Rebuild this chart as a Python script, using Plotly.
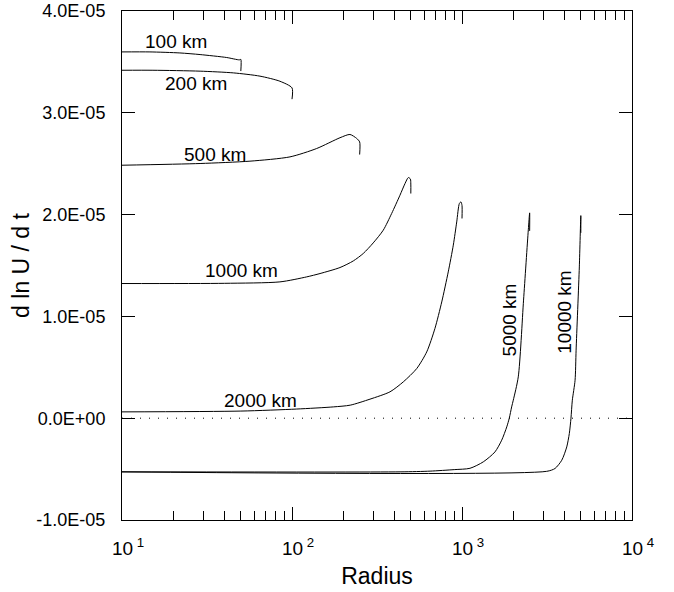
import math
import plotly.graph_objects as go

# ---- data (Radius, d ln U / d t in units of 1e-5) ----
r_100 = [10, 14.6, 21.9, 28.8, 41.3, 49, 50, 50]
v_100 = [3.598, 3.598, 3.588, 3.572, 3.543, 3.52, 3.525, 3.41]

r_200 = [10, 15.2, 28.8, 45.2, 64.8, 84.9, 100, 100]
v_200 = [3.418, 3.418, 3.409, 3.392, 3.36, 3.31, 3.245, 3.134]

r_500 = [10, 28.8, 56.6, 97.3, 139.6, 191.5, 219.2, 240.2, 250, 250]
v_500 = [2.485, 2.502, 2.525, 2.567, 2.649, 2.755, 2.787, 2.748, 2.714, 2.59]

r_1000 = [10, 40, 84.9, 121.9, 146.2, 191.5, 229.4, 262.5, 300.5, 344.2, 385.7, 431.5, 462.1, 483.4, 497, 500, 500]
v_1000 = [1.323, 1.325, 1.339, 1.388, 1.421, 1.480, 1.545, 1.618, 1.722, 1.847, 2.011, 2.19, 2.305, 2.364, 2.35, 2.30, 2.207]

r_2000 = [10, 50, 106.6, 175, 220, 287.5, 377, 451.6, 541.8, 620, 693, 760, 830, 889, 931, 965, 986, 1000, 1000]
v_2000 = [0.062, 0.07, 0.09, 0.111, 0.128, 0.187, 0.259, 0.357, 0.488, 0.651, 0.881, 1.142, 1.437, 1.70, 1.928, 2.109, 2.125, 2.09, 1.962]

r_5000 = [10, 432, 649, 900, 1114, 1334, 1563, 1712, 1834, 1897, 1959, 2003, 2143, 2302, 2455, 2500, 2500]
v_5000 = [-0.527, -0.527, -0.52, -0.505, -0.492, -0.429, -0.331, -0.216, -0.085, 0.0, 0.111, 0.177, 0.406, 1.16, 1.85, 2.017, 1.84]

r_10000 = [10, 3148, 3524, 3862, 4132, 4279, 4375, 4457, 4625, 4690, 4900, 5000, 5000]
v_10000 = [-0.527, -0.522, -0.494, -0.413, -0.282, -0.15, 0.0, 0.177, 0.373, 0.668, 1.486, 1.99, 1.82]

zero_x = [10, 10000]
zero_y = [0, 0]

curve_labels = ["100 km", "200 km", "500 km", "1000 km", "2000 km", "5000 km", "10000 km"]
label_r = [20.8, 27.2, 35.2, 50.6, 64.9, 1897, 4036]
label_v = [3.703, 3.291, 2.593, 1.454, 0.17, 0.963, 1.036]
label_angle = [0, 0, 0, 0, 0, -90, -90]

ytick_vals = [-1, 0, 1, 2, 3, 4]
ytick_text = ["-1.0E-05", "0.0E+00", "1.0E-05", "2.0E-05", "3.0E-05", "4.0E-05"]
xtick_vals = [10, 100, 1000, 10000]
xtick_text = ["10<sup> 1</sup>", "10<sup> 2</sup>", "10<sup> 3</sup>", "10<sup> 4</sup>"]
xminor_vals = [m * d for d in (10, 100, 1000) for m in range(2, 10)]

FONT = "Liberation Sans, Arial, Helvetica, sans-serif"
scale = 1e-5

fig = go.Figure()
for rr, vv in [(r_100, v_100), (r_200, v_200), (r_500, v_500), (r_1000, v_1000),
               (r_2000, v_2000), (r_5000, v_5000), (r_10000, v_10000)]:
    fig.add_trace(go.Scatter(x=rr, y=[v * scale for v in vv], mode="lines",
                             line=dict(color="black", width=1, shape="spline", smoothing=0.7),
                             showlegend=False))

fig.add_trace(go.Scatter(x=zero_x, y=zero_y, mode="lines",
                         line=dict(color="black", width=1, dash="1px,8px"), showlegend=False))

for t, xr, yv, ang in zip(curve_labels, label_r, label_v, label_angle):
    fig.add_annotation(x=math.log10(xr), y=yv * scale, text=t, showarrow=False,
                       textangle=ang, font=dict(family=FONT, size=19, color="black"))

fig.update_layout(
    width=674, height=592,
    margin=dict(l=122, r=42, t=11, b=72, autoexpand=False),
    paper_bgcolor="white", plot_bgcolor="white",
    font=dict(family=FONT, size=18, color="black"),
    showlegend=False,
)
fig.update_xaxes(
    type="log", range=[1, 4], automargin=False,
    showgrid=False, zeroline=False,
    showline=True, linecolor="black", linewidth=1, mirror="ticks",
    ticks="inside", ticklen=13, tickcolor="black", tickwidth=1,
    tickmode="array", tickvals=xtick_vals, ticktext=xtick_text,
    tickfont=dict(family=FONT, size=19),
    ticklabelstandoff=11, ticklabelshift=6,
    minor=dict(ticks="inside", ticklen=9, tickcolor="black", tickwidth=1,
               tickmode="array", tickvals=xminor_vals, showgrid=False),
    title=dict(text="Radius", font=dict(family=FONT, size=23), standoff=10),
)
fig.update_yaxes(
    range=[-1e-5, 4e-5], automargin=False,
    showgrid=False, zeroline=False,
    showline=True, linecolor="black", linewidth=1, mirror="ticks",
    ticks="inside", ticklen=13, tickcolor="black", tickwidth=1,
    tickmode="array", tickvals=[v * scale for v in ytick_vals], ticktext=ytick_text,
    tickfont=dict(family=FONT, size=18),
    ticklabelstandoff=12,
    title=dict(text="d ln U / d t", font=dict(family=FONT, size=23), standoff=0),
)

fig.write_html("out.html")
